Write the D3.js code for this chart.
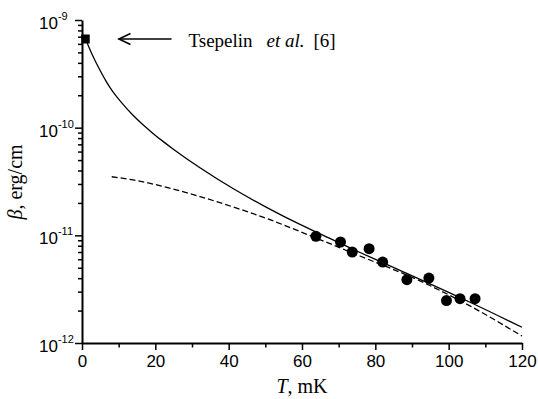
<!DOCTYPE html>
<html>
<head>
<meta charset="utf-8">
<script src="https://cdn.jsdelivr.net/npm/d3@7"></script>
<style>
  body { margin: 0; background: #fff; }
  .tick text { font-family: "Liberation Sans", Arial, sans-serif; }
</style>
</head>
<body>
<div id="chart"></div>
<script>
// solid curve (theory), T in mK, beta in erg/cm
const solidT = [0.95, 2.73, 4.91, 6.55, 8.45, 10.91, 13.91, 16.64, 19.36, 22.09, 24.82,
                32.18, 41.18, 50.45, 59.45, 64.09, 75.82, 86.73, 105.82, 120];
const solidBeta = [6.66e-10, 4.80e-10, 3.41e-10, 2.71e-10, 2.145e-10, 1.688e-10, 1.302e-10, 1.063e-10,
                   8.85e-11, 7.46e-11, 6.35e-11, 4.24e-11, 2.72e-11, 1.81e-11, 1.263e-11, 1.065e-11,
                   6.93e-12, 4.73e-12, 2.39e-12, 1.40e-12];

// dashed curve
const dashT = [8.1, 14.0, 23.1, 32.2, 41.3, 50.4, 59.4, 75.8, 92.2, 105.8, 120];
const dashBeta = [3.50e-11, 3.27e-11, 2.79e-11, 2.29e-11, 1.83e-11, 1.434e-11, 1.086e-11, 6.43e-12,
                  3.77e-12, 2.21e-12, 1.16e-12];

// measured points
const dotT = [63.8, 70.5, 73.7, 78.3, 82.0, 88.6, 94.6, 99.4, 103.1, 107.2];
const dotBeta = [9.8e-12, 8.67e-12, 7.0e-12, 7.52e-12, 5.65e-12, 3.87e-12, 4.01e-12, 2.48e-12, 2.58e-12, 2.58e-12];

// Tsepelin et al. [6]
const refT = [0.95];
const refBeta = [6.66e-10];

const xMajor = [0, 20, 40, 60, 80, 100, 120];
const xMinor = [10, 30, 50, 70, 90, 110];
const yMajorExp = [-12, -11, -10, -9];

const width = 538, height = 399;
const padding = { top: 20, bottom: 56, left: 82, right: 16 };

const x = d3.scaleLinear().domain([0, 120]).range([padding.left, width - padding.right]);
const y = d3.scaleLog().domain([1e-12, 1e-9]).range([height - padding.bottom, padding.top]);

const svg = d3.select("#chart")
  .append("svg")
  .attr("width", width)
  .attr("height", height)
  .style("background", "#fff");

// x axis
const xAxisG = svg.append("g")
  .attr("transform", "translate(0," + y(1e-12) + ")")
  .call(d3.axisBottom(x).tickValues(xMajor).tickSize(7).tickSizeOuter(0).tickPadding(5).tickFormat(d3.format("d")));
svg.append("g")
  .attr("transform", "translate(0," + y(1e-12) + ")")
  .call(d3.axisBottom(x).tickValues(xMinor).tickSize(4.5).tickSizeOuter(0).tickFormat(""))
  .select(".domain").remove();

xAxisG.selectAll("text")
  .style("font-size", "17px")
  .attr("fill", "#000");

// y axis
const yMinor = [];
yMajorExp.slice(0, 3).forEach(function(e) {
  for (let m = 2; m <= 9; m++) yMinor.push(m * Math.pow(10, e));
});

svg.append("g")
  .attr("transform", "translate(" + x(0) + ",0)")
  .call(d3.axisLeft(y).tickValues(yMajorExp.map(e => Math.pow(10, e))).tickSize(7).tickSizeOuter(0).tickFormat(""));
svg.append("g")
  .attr("transform", "translate(" + x(0) + ",0)")
  .call(d3.axisLeft(y).tickValues(yMinor).tickSize(4).tickSizeOuter(0).tickFormat(""))
  .select(".domain").remove();

svg.selectAll(".domain").attr("stroke", "#000").attr("stroke-width", 2);
svg.selectAll(".tick line").attr("stroke", "#000").attr("stroke-width", 1.5);

// y tick labels 10^n
const yLab = svg.append("g")
  .selectAll("text")
  .data(yMajorExp)
  .enter()
  .append("text")
  .attr("x", 39)
  .attr("y", d => y(Math.pow(10, d)) + 9)
  .style("font-family", "'Liberation Sans', Arial, sans-serif")
  .style("font-size", "17px");
yLab.append("tspan").text("10");
yLab.append("tspan")
  .attr("dy", -9)
  .style("font-size", "11px")
  .text(d => "-" + Math.abs(d));

// axis titles
const xTitle = svg.append("text")
  .attr("x", x(60))
  .attr("y", 393)
  .attr("text-anchor", "middle")
  .style("font-family", "'Liberation Serif', 'Times New Roman', serif")
  .style("font-size", "20px");
xTitle.append("tspan").style("font-style", "italic").text("T");
xTitle.append("tspan").text(", mK");

const yTitle = svg.append("text")
  .attr("transform", "translate(22," + 182 + ") rotate(-90)")
  .attr("text-anchor", "middle")
  .style("font-family", "'Liberation Serif', 'Times New Roman', serif")
  .style("font-size", "20px");
yTitle.append("tspan").style("font-style", "italic").text("β");
yTitle.append("tspan").text(", erg/cm");

// curves
const line = d3.line()
  .x(d => x(d[0]))
  .y(d => y(d[1]))
  .curve(d3.curveMonotoneX);

svg.append("path")
  .datum(d3.zip(solidT, solidBeta))
  .attr("d", line)
  .attr("fill", "none")
  .attr("stroke", "#000")
  .attr("stroke-width", 1.3);

svg.append("path")
  .datum(d3.zip(dashT, dashBeta))
  .attr("d", line)
  .attr("fill", "none")
  .attr("stroke", "#000")
  .attr("stroke-width", 1.3)
  .attr("stroke-dasharray", "6,3");

// points
svg.append("g")
  .selectAll("circle")
  .data(d3.zip(dotT, dotBeta))
  .enter()
  .append("circle")
  .attr("cx", d => x(d[0]))
  .attr("cy", d => y(d[1]))
  .attr("r", 5.5)
  .attr("fill", "#000");

svg.append("g")
  .selectAll("rect")
  .data(d3.zip(refT, refBeta))
  .enter()
  .append("rect")
  .attr("x", d => x(d[0]) - 4.25)
  .attr("y", d => y(d[1]) - 4.5)
  .attr("width", 8.5)
  .attr("height", 9)
  .attr("fill", "#000");

// annotation arrow pointing at the square
const ax = x(refT[0]), ay = y(refBeta[0]);
svg.append("line")
  .attr("x1", ax + 33).attr("y1", ay)
  .attr("x2", ax + 86).attr("y2", ay)
  .attr("stroke", "#000")
  .attr("stroke-width", 1.6);
svg.append("path")
  .attr("d", "M" + (ax + 45) + "," + (ay - 5.5) + "L" + (ax + 33.5) + "," + ay + "L" + (ax + 45) + "," + (ay + 5.5))
  .attr("fill", "none")
  .attr("stroke", "#000")
  .attr("stroke-width", 1.6);

const note = svg.append("g")
  .style("font-family", "'Liberation Serif', 'Times New Roman', serif")
  .style("font-size", "19px");
note.append("text").attr("x", ax + 103).attr("y", ay + 8).text("Tsepelin");
note.append("text").attr("x", ax + 181).attr("y", ay + 8).style("font-style", "italic").text("et al.");
note.append("text").attr("x", ax + 228).attr("y", ay + 8).text("[6]");
</script>
</body>
</html>
